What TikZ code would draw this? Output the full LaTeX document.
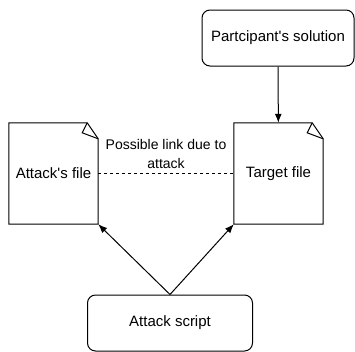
\documentclass[tikz,border=0pt]{standalone}
\usepackage{fontspec}
\setmainfont{Liberation Sans}
\usetikzlibrary{arrows.meta}
\begin{document}
\begin{tikzpicture}[x=1pt,y=-1pt,
  box/.style={draw, rounded corners=8pt, line width=1pt, font=\fontsize{15}{18}\selectfont},
  doc/.style={minimum width=89pt, minimum height=101pt, inner sep=0pt, font=\fontsize{15}{18}\selectfont},
  arr/.style={-{Latex[length=9pt,width=7pt]}, line width=1pt}]
\useasboundingbox (0,0) rectangle (355,351);
\node[box, minimum width=152pt, minimum height=56pt] (sol) at (278,38){Partcipant\textquotesingle s solution};
\node[box, minimum width=165pt, minimum height=56pt] (scr) at (170,323){Attack script};
\node[doc] (afile) at (53.5,173.5){Attack\textquotesingle s file};
\node[doc] (tfile) at (278.5,173.5){Target file};
\draw[line width=1pt] (afile.north west) -- ([xshift=-11pt]afile.north east) -- ([yshift=-16pt]afile.north east) -- (afile.south east) -- (afile.south west) -- cycle;
\draw[line width=1pt] ([xshift=-11pt]afile.north east) -- ([xshift=-16pt,yshift=-10pt]afile.north east) -- ([yshift=-16pt]afile.north east);
\draw[line width=1pt] (tfile.north west) -- ([xshift=-11pt]tfile.north east) -- ([yshift=-16pt]tfile.north east) -- (tfile.south east) -- (tfile.south west) -- cycle;
\draw[line width=1pt] ([xshift=-11pt]tfile.north east) -- ([xshift=-16pt,yshift=-10pt]tfile.north east) -- ([yshift=-16pt]tfile.north east);
\draw[arr] (sol) -- (tfile);
\draw[arr] (scr.north) -- (afile.south east);
\draw[arr] (scr.north) -- (tfile.south west);
\draw[dashed, line width=1pt] (afile) -- (tfile);
\node[align=center, font=\fontsize{14}{19}\selectfont, inner sep=1pt] (lnk) at (166,154){Possible link due to\\attack};
\end{tikzpicture}
\end{document}
